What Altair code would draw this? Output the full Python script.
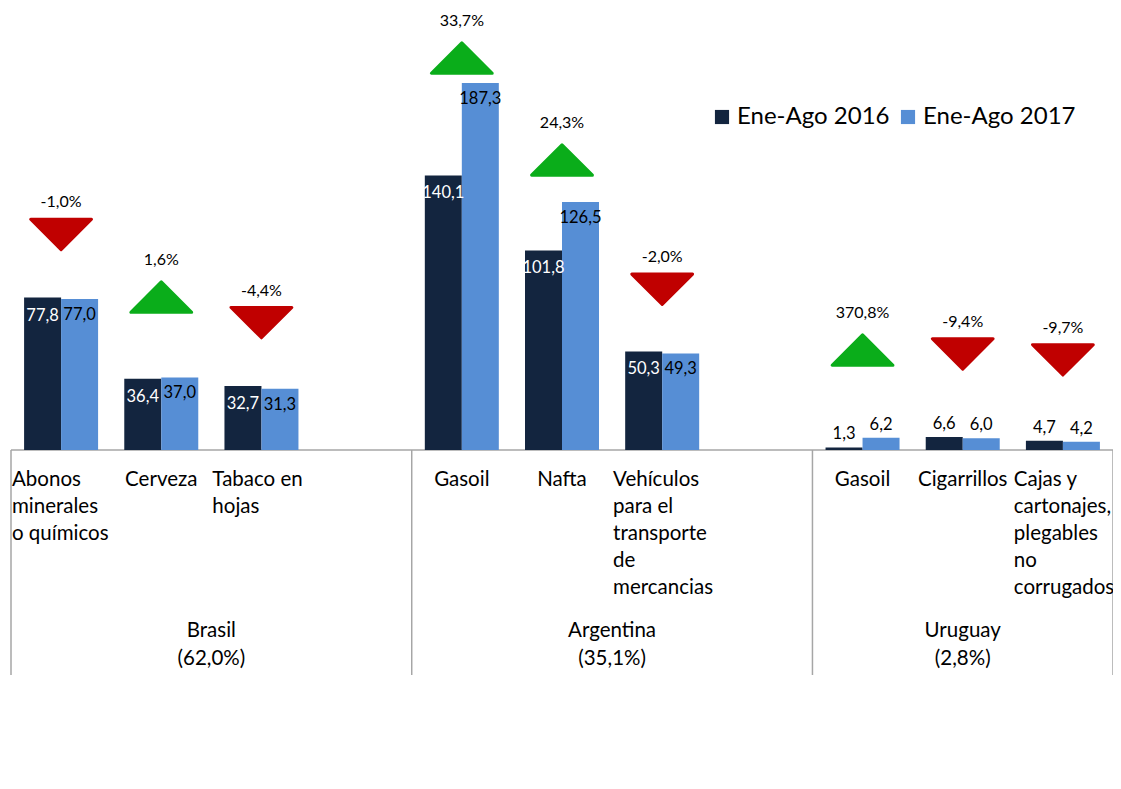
import altair as alt
import pandas as pd

FONT = "Lato"
DARK = "#13253F"
LIGHT = "#568ED5"
GREEN = "#0AAD1A"
RED = "#C00000"
GREY = "#A6A6A6"

countries = ["Brasil", "Argentina", "Uruguay"]
country_share = ["(62,0%)", "(35,1%)", "(2,8%)"]
products = [
    ["Abonos\nminerales\no químicos", "Cerveza", "Tabaco en\nhojas"],
    ["Gasoil", "Nafta", "Vehículos\npara el\ntransporte\nde\nmercancias"],
    ["Gasoil", "Cigarrillos", "Cajas y\ncartonajes,\nplegables\nno\ncorrugados"],
]
series = ["Ene-Ago 2016", "Ene-Ago 2017"]
values_2016 = [77.8, 36.4, 32.7, 140.1, 101.8, 50.3, 1.3, 6.6, 4.7]
values_2017 = [77.0, 37.0, 31.3, 187.3, 126.5, 49.3, 6.2, 6.0, 4.2]
variation = [-1.0, 1.6, -4.4, 33.7, 24.3, -2.0, 370.8, -9.4, -9.7]
# height (in value units) at which each variation arrow sits
arrow_level = [110, 78, 65, 200, 148, 82, 51, 49, 46]
# number of category slots per country (3 products + an empty gap, last has no gap)
group_slots = [4, 4, 3]


def fmt(v):
    return f"{v:.1f}".replace(".", ",")


bounds = [0]
for n in group_slots:
    bounds.append(bounds[-1] + n)

bar_rows, arrow_rows, prod_rows, country_rows = [], [], [], []
k = 0
for gi, c in enumerate(countries):
    country_rows.append({"xc": (bounds[gi] + bounds[gi + 1]) / 2,
                         "text": c + "\n" + country_share[gi]})
    for pi, p in enumerate(products[gi]):
        slot = bounds[gi] + pi
        for s, vals in zip(series, [values_2016, values_2017]):
            bar_rows.append({"xc": slot + 0.5, "series": s, "value": vals[k],
                             "label": fmt(vals[k])})
        arrow_rows.append({"xc": slot + 0.5, "level": arrow_level[k],
                           "pct": fmt(variation[k]) + "%",
                           "dir": "up" if variation[k] >= 0 else "down"})
        prod_rows.append({"slot": slot, "xc": slot + 0.5, "text": p,
                          "multi": "\n" in p})
        k += 1

bars_df = pd.DataFrame(bar_rows)
arrows_df = pd.DataFrame(arrow_rows)
prod_df = pd.DataFrame(prod_rows)
country_df = pd.DataFrame(country_rows)
bounds_df = pd.DataFrame({"b": bounds})
axis_df = pd.DataFrame({"x": [bounds[0]], "x2": [bounds[-1]], "y": [0]})

PLOT_W, PLOT_H = 1102, 440
x_scale = alt.Scale(domain=[bounds[0], bounds[-1]], nice=False, zero=False,
                    padding=0)
y_scale = alt.Scale(domain=[0, 224.5], nice=False, padding=0)
X = lambda f: alt.X(f, scale=x_scale, axis=None)
Y = lambda f: alt.Y(f, scale=y_scale, axis=None)

color = alt.Color(
    "series:N",
    scale=alt.Scale(domain=series, range=[DARK, LIGHT]),
    legend=alt.Legend(
        title=None, orient="none", legendX=699, legendY=95,
        direction="horizontal", labelFontSize=24, labelFont=FONT,
        labelColor="black", symbolType="square", symbolSize=200,
        symbolStrokeWidth=0, columnPadding=6, labelOffset=3, padding=0,
    ),
)

base = alt.Chart(bars_df)
is16 = alt.datum.series == series[0]
is17 = alt.datum.series == series[1]

bar16 = base.transform_filter(is16).mark_bar(size=37, xOffset=-18.5).encode(
    x=X("xc:Q"), y=Y("value:Q"), color=color)
bar17 = base.transform_filter(is17).mark_bar(size=37, xOffset=18.5).encode(
    x=X("xc:Q"), y=Y("value:Q"), color=color)

lab_kw = dict(font=FONT, fontSize=16.5, baseline="middle")
t16_in = base.transform_filter(is16 & (alt.datum.value >= 10)).mark_text(
    dx=-18.5, dy=18, color="white", **lab_kw).encode(
    x=X("xc:Q"), y=Y("value:Q"), text="label:N")
t17_in = base.transform_filter(is17 & (alt.datum.value >= 10)).mark_text(
    dx=18.5, dy=16, color="black", **lab_kw).encode(
    x=X("xc:Q"), y=Y("value:Q"), text="label:N")
t16_out = base.transform_filter(is16 & (alt.datum.value < 10)).mark_text(
    dx=-18.5, dy=-13, color="black", **lab_kw).encode(
    x=X("xc:Q"), y=Y("value:Q"), text="label:N")
t17_out = base.transform_filter(is17 & (alt.datum.value < 10)).mark_text(
    dx=18.5, dy=-13, color="black", **lab_kw).encode(
    x=X("xc:Q"), y=Y("value:Q"), text="label:N")

UP = "M-1,0.5L1,0.5L0,-0.5Z"
DOWN = "M-1,-0.5L1,-0.5L0,0.5Z"
abase = alt.Chart(arrows_df)
up = abase.transform_filter(alt.datum.dir == "up").mark_point(
    shape=UP, size=3700, filled=True, color=GREEN, stroke=GREEN,
    strokeWidth=3, strokeJoin="round", opacity=1).encode(
    x=X("xc:Q"), y=Y("level:Q"))
down = abase.transform_filter(alt.datum.dir == "down").mark_point(
    shape=DOWN, size=3700, filled=True, color=RED, stroke=RED,
    strokeWidth=3, strokeJoin="round", opacity=1).encode(
    x=X("xc:Q"), y=Y("level:Q"))
pct_up = abase.transform_filter(alt.datum.dir == "up").mark_text(
    font=FONT, fontSize=16, dy=-37, color="black").encode(
    x=X("xc:Q"), y=Y("level:Q"), text="pct:N")
pct_down = abase.transform_filter(alt.datum.dir == "down").mark_text(
    font=FONT, fontSize=16, dy=-32, color="black").encode(
    x=X("xc:Q"), y=Y("level:Q"), text="pct:N")

axis_line = alt.Chart(axis_df).mark_rule(color=GREY, strokeWidth=1.5).encode(
    x=X("x:Q"), x2="x2:Q", y=Y("y:Q"))
seps = alt.Chart(bounds_df).mark_rule(color=GREY, strokeWidth=1.5).encode(
    x=X("b:Q"), y=alt.value(PLOT_H), y2=alt.value(665))

ptxt_kw = dict(font=FONT, fontSize=20.5, baseline="top", lineHeight=27,
               lineBreak="\n", color="black")
prod_multi = alt.Chart(prod_df).transform_filter("datum.multi").mark_text(
    align="left", dx=1, **ptxt_kw).encode(
    x=X("slot:Q"), y=alt.value(460), text="text:N")
prod_single = alt.Chart(prod_df).transform_filter("!datum.multi").mark_text(
    align="center", **ptxt_kw).encode(
    x=X("xc:Q"), y=alt.value(460), text="text:N")
country_txt = alt.Chart(country_df).mark_text(
    align="center", font=FONT, fontSize=20.5, baseline="top", lineHeight=28,
    lineBreak="\n", color="black").encode(
    x=X("xc:Q"), y=alt.value(611), text="text:N")

chart = alt.layer(
    axis_line, seps, bar16, bar17, t16_in, t17_in, t16_out, t17_out,
    up, down, pct_up, pct_down, prod_multi, prod_single, country_txt,
).properties(
    width=PLOT_W, height=PLOT_H,
    padding={"left": 3, "top": 2, "right": 0, "bottom": 240},
    autosize=alt.AutoSizeParams(type="none"),
).configure_view(stroke=None)

chart.save("out.html", embed_options={"renderer": "svg", "actions": False})
